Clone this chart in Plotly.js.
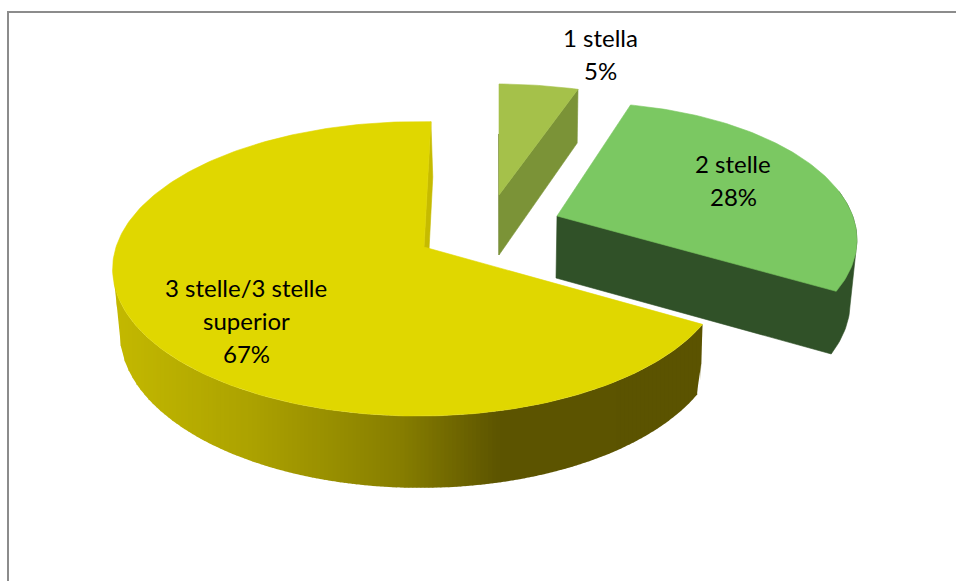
<!DOCTYPE html>
<html>
<head>
<meta charset="utf-8">
<script src="https://cdn.plot.ly/plotly-3.0.1.min.js"></script>
<style>html,body{margin:0;padding:0;background:#fff}#chart{width:956px;height:581px}</style>
</head>
<body>
<div id="chart"></div>
<script>
// Data
const categories = ['1 stella', '2 stelle', '3 stelle/3 stelle superior'];
const shares = [5, 28, 67];
const labelLines = [['1 stella', '5%'], ['2 stelle', '28%'], ['3 stelle/3 stelle', 'superior', '67%']];
const labelX = [600.5, 733, 246];
const labelY = [37, 163, 287];
const topColors = ['#A5C14A', '#7BC862', '#E0D700'];
const wallColors = ['#7B9337', '#305128', '#5A5200'];

// Projection of each slice: apex, half axes and perspective, for the top and the bottom face
const rotations = [0, 0, 1.5];
const topFaces = [
  {ax: 499, ay: 195, B: 291, A: 126.5, k: .139, m: .02},
  {ax: 557, ay: 216, B: 267, A: 131, k: .16, m: -.097},
  {ax: 424, ay: 247, B: 303, A: 144, k: .148, m: .016}
];
const bottomFaces = [
  {ax: 499, ay: 255, B: 288, A: 134, k: .139, m: .02},
  {ax: 556, ay: 278, B: 281.6, A: 141.4, k: .16, m: -.03},
  {ax: 426, ay: 309, B: 298, A: 152, k: .15, m: .016}
];
const wallStops = [[100, [198, 187, 0]], [250, [172, 162, 0]], [400, [135, 126, 0]], [500, [92, 84, 0]], [960, [90, 82, 0]]];

function project(f, deg) {
  const t = deg * Math.PI / 180, X = Math.sin(t), Y = Math.cos(t), w = 1 + f.k * Y + f.m * X;
  return [f.ax + f.B * X / w, f.ay - f.A * Y / w];
}
function rim(f, a, b) {
  const n = Math.max(2, Math.ceil(Math.abs(b - a))), pts = [];
  for (let i = 0; i <= n; i++) pts.push(project(f, a + (b - a) * i / n));
  return pts;
}
function poly(pts, color) {
  return {
    type: 'scatter', mode: 'lines', fill: 'toself', fillcolor: color,
    x: pts.map(p => p[0]).concat([pts[0][0]]), y: pts.map(p => p[1]).concat([pts[0][1]]),
    line: {color: color, width: 0.6}, hoverinfo: 'skip', showlegend: false
  };
}
function wallColor(x) {
  for (let i = 1; i < wallStops.length; i++) {
    if (x <= wallStops[i][0]) {
      const a = wallStops[i - 1], b = wallStops[i], u = Math.max(0, (x - a[0]) / (b[0] - a[0]));
      const c = a[1].map((v, j) => Math.round(v + (b[1][j] - v) * u));
      return 'rgb(' + c.join(',') + ')';
    }
  }
  return 'rgb(90,82,0)';
}
// Vertical extent of a closed outline at a given x
function span(outline, x) {
  let lo = Infinity, hi = -Infinity;
  for (let i = 0; i < outline.length; i++) {
    const p = outline[i], q = outline[(i + 1) % outline.length];
    if ((p[0] - x) * (q[0] - x) <= 0 && p[0] !== q[0]) {
      const y = p[1] + (q[1] - p[1]) * (x - p[0]) / (q[0] - p[0]);
      lo = Math.min(lo, y); hi = Math.max(hi, y);
    }
  }
  return [lo, hi];
}

// Slice angles from the shares
const starts = [], ends = [];
let acc = 0;
shares.forEach((s, i) => {
  starts.push(acc + rotations[i]);
  acc += s * 3.6;
  ends.push(acc + rotations[i]);
});

const traces = [];
function apex(f) { return [f.ax, f.ay]; }

// 3 stelle: rim wall shaded column by column, inner cut wall, top
{
  const i = 2, T = topFaces[i], F = bottomFaces[i];
  const outline = rim(T, starts[i], 262).concat(rim(F, 262, starts[i]));
  const xs = outline.map(p => p[0]);
  const xMin = Math.min.apply(null, xs), xMax = Math.max.apply(null, xs);
  const step = 4;
  for (let x = xMin; x < xMax; x += step) {
    const x1 = x + 0.01, x2 = Math.min(x + step + 0.6, xMax - 0.01);
    const a = span(outline, x1), b = span(outline, x2);
    if (!isFinite(a[0]) || !isFinite(b[0])) continue;
    traces.push({
      type: 'scatter', mode: 'lines', fill: 'toself', fillcolor: wallColor(x + step / 2),
      x: [x1, x2, x2, x1, x1], y: [a[0], b[0], b[1], a[1], a[0]],
      line: {width: 0}, hoverinfo: 'skip', showlegend: false
    });
  }
  const end = ends[i];
  traces.push(poly([project(T, end), project(F, end), apex(F), apex(T)], 'rgb(198,187,0)'));
  traces.push(poly([apex(T)].concat(rim(T, starts[i], end)), topColors[i]));
}
// 1 stella
{
  const i = 0, T = topFaces[i], F = bottomFaces[i];
  traces.push({type: 'scatter', mode: 'lines', x: [T.ax - 0.5, F.ax - 0.2], y: [project(T, starts[i])[1] + 50, F.ay],
    line: {color: '#6F7F35', width: 0.8}, hoverinfo: 'skip', showlegend: false});
  traces.push(poly([apex(T), project(T, ends[i]), project(F, ends[i]), apex(F)], wallColors[i]));
  traces.push(poly([apex(T)].concat(rim(T, starts[i], ends[i])), topColors[i]));
}
// 2 stelle: cut face and rim wall as one outline, joined at the rim's right-hand silhouette
{
  const i = 1, T = topFaces[i], F = bottomFaces[i], turn = 100;
  traces.push(poly([apex(T)].concat(rim(T, 80, turn), rim(F, turn, ends[i]), [apex(F)]), wallColors[i]));
  traces.push(poly([apex(T)].concat(rim(T, starts[i], ends[i])), topColors[i]));
}

const lineGap = 33;
const annotations = [];
labelLines.forEach((lines, i) => lines.forEach((txt, j) => annotations.push({
  x: labelX[i], y: labelY[i] + j * lineGap, xref: 'x', yref: 'y', text: txt, showarrow: false,
  xanchor: 'center', yanchor: 'middle', font: {family: 'Lato, Carlito, sans-serif', size: 24, color: '#000'}
})));

const layout = {
  width: 956, height: 581, margin: {l: 0, r: 0, t: 0, b: 0},
  paper_bgcolor: '#fff', plot_bgcolor: '#fff', showlegend: false,
  xaxis: {range: [0, 956], visible: false, fixedrange: true},
  yaxis: {range: [581, 0], visible: false, fixedrange: true},
  annotations: annotations,
  shapes: [{type: 'path', xref: 'x', yref: 'y', path: 'M 8 581 L 8 12 L 956 12', line: {color: '#8C8C8C', width: 2}}]
};
Plotly.newPlot('chart', traces, layout, {displayModeBar: false, staticPlot: true});
</script>
</body>
</html>
